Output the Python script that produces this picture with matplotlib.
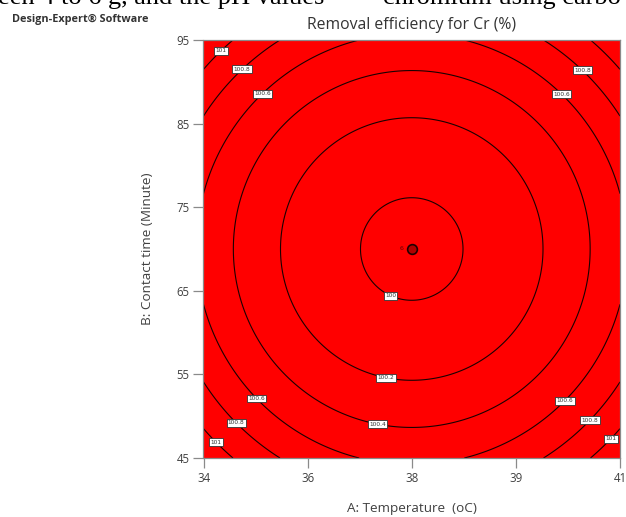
import numpy as np
import matplotlib
matplotlib.use("Agg")
import matplotlib.pyplot as plt

# ---- data ----
x_range = [34, 41]
y_range = [45, 95]
x_ticks = [34, 35.75, 37.5, 39.25, 41]
x_tick_labels = ["34", "36", "38", "39", "41"]
y_ticks = [45, 55, 65, 75, 85, 95]
y_tick_labels = ["45", "55", "65", "75", "85", "95"]
contour_levels = [100.0, 100.2, 100.4, 100.6, 100.8, 101.0]
level_labels = ["100", "100.2", "100.4", "100.6", "100.8", "101"]
# fitted quadratic response (Design-Expert model)
center_point = [37.5, 70.0]
center_value = 99.964
curvature = [0.0485, 0.000957]
center_replicates = "6"

# label placement (styling)
label_pos = [(34.28, 93.8), (34.63, 91.65), (34.98, 88.66), (40.50, 92.37), (40.14, 89.38),
             (37.17, 64.85), (37.08, 54.93), (34.90, 52.18), (34.55, 49.19), (34.19, 46.79),
             (36.93, 49.19), (40.08, 51.82), (40.51, 49.43), (40.87, 47.15)]

fig = plt.figure(figsize=(6.26, 5.17), dpi=100)
ax = fig.add_axes([203.5 / 626, 1 - 458 / 517, 416.5 / 626, 418 / 517])

A = np.linspace(x_range[0], x_range[1], 400)
B = np.linspace(y_range[0], y_range[1], 400)
AA, BB = np.meshgrid(A, B)
Z = center_value + curvature[0] * (AA - center_point[0]) ** 2 + curvature[1] * (BB - center_point[1]) ** 2

ax.contourf(AA, BB, Z, levels=[Z.min() - 1, Z.max() + 1], colors=["#ff0000"])
cs = ax.contour(AA, BB, Z, levels=contour_levels, colors="#1a0000", linewidths=0.8)
fmt = {lv: lb for lv, lb in zip(contour_levels, level_labels)}
texts = ax.clabel(cs, fmt=fmt, manual=label_pos, inline=False, fontsize=4.2, colors="#333333")
for t in texts:
    t.set_rotation(0)
    t.set_bbox(dict(facecolor="white", edgecolor="#333333", linewidth=0.6, pad=1.0))
    t.set_family("DejaVu Sans")

# center point
ax.plot([center_point[0]], [center_point[1]], marker="o", markersize=7, markerfacecolor="#b00000",
        markeredgecolor="#200000", markeredgewidth=1.2, linestyle="none", zorder=5)
ax.text(center_point[0] - 0.17, center_point[1], center_replicates, fontsize=4.5, color="#600000",
        ha="center", va="center", zorder=5)

ax.set_xlim(x_range)
ax.set_ylim(y_range)
ax.set_xticks(x_ticks)
ax.set_xticklabels(x_tick_labels)
ax.set_yticks(y_ticks)
ax.set_yticklabels(y_tick_labels)

tick_font = "Open Sans"
for spine in ax.spines.values():
    spine.set_color("#8a8a8a")
    spine.set_linewidth(0.9)
ax.tick_params(direction="out", length=7, width=0.9, color="#8a8a8a", labelsize=8.3,
               labelcolor="#404040", pad=3)
for lbl in ax.get_xticklabels() + ax.get_yticklabels():
    lbl.set_family(tick_font)

ax.set_title("Removal efficiency for Cr (%)", fontsize=11.3, color="#333333", family=tick_font, pad=8)
ax.set_xlabel("A: Temperature  (oC)", fontsize=9.7, color="#404040", family=tick_font, labelpad=12)
ax.set_ylabel("B: Contact time (Minute)", fontsize=9.7, color="#404040", family=tick_font, labelpad=16)

fig.text(12 / 626, 1 - 19 / 517, "Design-Expert\u00ae Software", fontsize=7.8, fontweight="bold",
         color="#333333", family=tick_font, va="center", ha="left")

# cropped body text from the source page
fig.text(-2 / 626, 1 - 4 / 517, "een 4 to 6 g, and the pH values", fontsize=19,
         family="Liberation Serif", color="black", va="baseline", ha="left")
fig.text(383 / 626, 1 - 4 / 517, "chromium using carbo", fontsize=19,
         family="Liberation Serif", color="black", va="baseline", ha="left")

fig.savefig("out.png", dpi=100)
